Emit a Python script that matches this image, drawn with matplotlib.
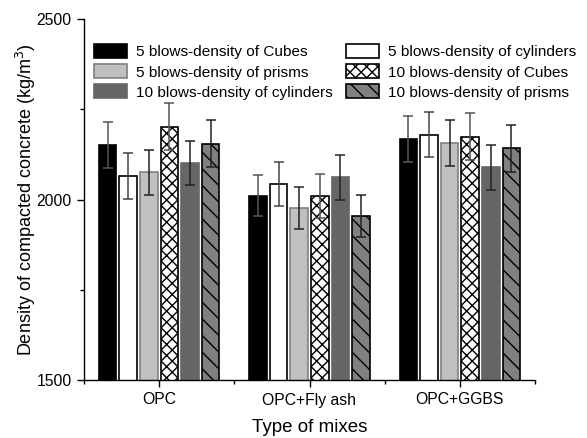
import matplotlib
matplotlib.use("Agg")
import matplotlib.pyplot as plt
from matplotlib.ticker import MultipleLocator, FixedLocator
import numpy as np

plt.rcParams['font.family'] = ['Liberation Sans', 'DejaVu Sans']
plt.rcParams['hatch.linewidth'] = 1.0

mixes = ['OPC', 'OPC+Fly ash', 'OPC+GGBS']

cubes_5 = [2150, 2011, 2167]
cubes_5_err = [64, 58, 64]
cylinders_5 = [2065, 2044, 2180]
cylinders_5_err = [64, 61, 62]
prisms_5 = [2075, 1976, 2156]
prisms_5_err = [62, 58, 64]
cubes_10 = [2201, 2010, 2174]
cubes_10_err = [65, 60, 65]
cylinders_10 = [2101, 2061, 2089]
cylinders_10_err = [62, 61, 63]
prisms_10 = [2155, 1954, 2142]
prisms_10_err = [64, 59, 65]

series = [
    ('5 blows-density of Cubes', cubes_5, cubes_5_err,
     dict(facecolor='black', edgecolor='black', hatch=None), '#555555'),
    ('5 blows-density of cylinders', cylinders_5, cylinders_5_err,
     dict(facecolor='white', edgecolor='black', hatch=None), '#444444'),
    ('5 blows-density of prisms', prisms_5, prisms_5_err,
     dict(facecolor='#c0c0c0', edgecolor='#808080', hatch=None), '#222222'),
    ('10 blows-density of Cubes', cubes_10, cubes_10_err,
     dict(facecolor='white', edgecolor='black', hatch='xxx'), '#555555'),
    ('10 blows-density of cylinders', cylinders_10, cylinders_10_err,
     dict(facecolor='#666666', edgecolor='#666666', hatch=None), '#222222'),
    ('10 blows-density of prisms', prisms_10, prisms_10_err,
     dict(facecolor='#808080', edgecolor='black', hatch='\\\\'), '#222222'),
]

fig = plt.figure(figsize=(5.87, 4.38), dpi=100)
ax = fig.add_axes([84 / 587, (438 - 380) / 438, (535 - 84) / 587, (380 - 19) / 438])

x = np.arange(1, len(mixes) + 1)
pitch = 0.137
width = 0.117
handles = []
for i, (label, vals, errs, style, ecol) in enumerate(series):
    pos = x + (i - 2.5) * pitch
    b = ax.bar(pos, vals, width, bottom=0, label=label, linewidth=1.2, **style)
    ax.errorbar(pos, vals, yerr=errs, fmt='none', ecolor=ecol,
                elinewidth=1.1, capsize=3.5, capthick=1.1)
    handles.append(b)

ax.set_xlim(0.5, 3.5)
ax.set_ylim(1500, 2500)
ax.set_xticks(x)
ax.set_xticklabels(mixes)
ax.xaxis.set_minor_locator(FixedLocator([0.5, 1.5, 2.5, 3.5]))
ax.yaxis.set_major_locator(MultipleLocator(500))
ax.yaxis.set_minor_locator(MultipleLocator(250))

for s in ['top', 'right']:
    ax.spines[s].set_visible(False)
for s in ['left', 'bottom']:
    ax.spines[s].set_linewidth(1.0)

ax.tick_params(axis='both', which='major', direction='out', length=5, width=1.0,
               labelsize=11.3, pad=4)
ax.tick_params(axis='both', which='minor', direction='out', length=3, width=1.0)

ax.set_xlabel('Type of mixes', fontsize=13.5, labelpad=8)
ax.set_ylabel('Density of compacted concrete (kg/m$^3$)', fontsize=13, labelpad=-1)

order = [0, 2, 4, 1, 3, 5]
ax.legend([handles[k] for k in order], [series[k][0] for k in order],
          ncol=2, loc='upper left', bbox_to_anchor=(0.022, 0.93),
          frameon=False, fontsize=11.1, handlelength=2.15, handleheight=1.0,
          labelspacing=0.32, handletextpad=0.55, columnspacing=0.9,
          borderaxespad=0, borderpad=0)

fig.savefig('out.png', dpi=100)
